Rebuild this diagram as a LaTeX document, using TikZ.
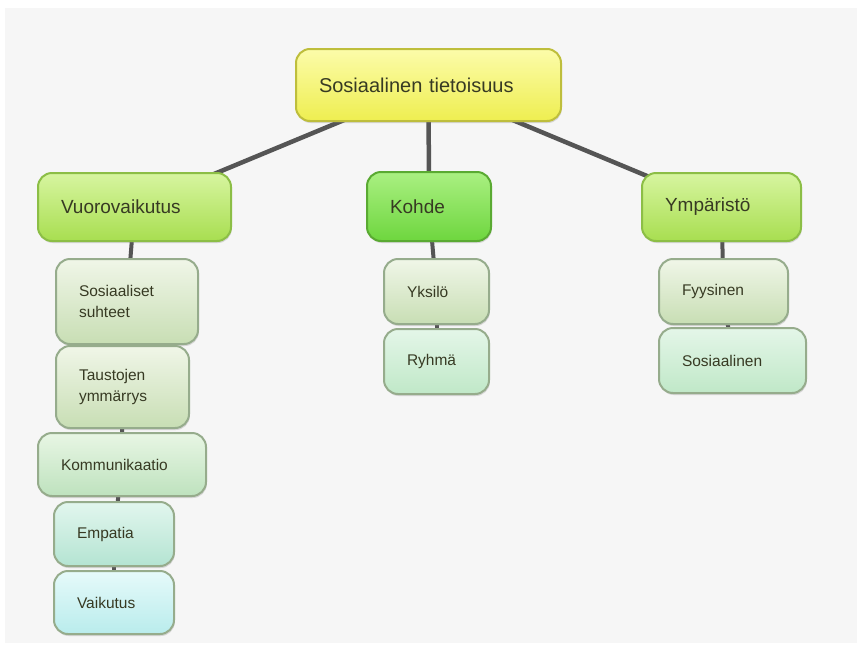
\documentclass[tikz,border=0pt]{standalone}
\usepackage{fontspec}
\setmainfont{Liberation Sans}
\usepackage{tikz}
\usetikzlibrary{shadows}
\usetikzlibrary{backgrounds}

\definecolor{panel}{RGB}{246,246,246}
\definecolor{linkgray}{RGB}{85,85,85}
\definecolor{txtdark}{RGB}{55,58,35}
\definecolor{roottop}{RGB}{252,252,170}
\definecolor{rootbot}{RGB}{238,238,80}
\definecolor{rootline}{RGB}{190,190,60}
\definecolor{lvltop}{RGB}{215,245,160}
\definecolor{lvlbot}{RGB}{168,222,80}
\definecolor{lvlline}{RGB}{140,190,70}
\definecolor{kohtop}{RGB}{170,240,130}
\definecolor{kohbot}{RGB}{110,214,62}
\definecolor{kohline}{RGB}{90,170,50}
\definecolor{subline}{RGB}{150,172,140}
\definecolor{olivetop}{RGB}{240,246,232}
\definecolor{olivebot}{RGB}{200,222,180}
\definecolor{minttop}{RGB}{232,246,228}
\definecolor{mintbot}{RGB}{190,226,190}
\definecolor{seatop}{RGB}{228,246,232}
\definecolor{seabot}{RGB}{192,232,200}
\definecolor{aquatop}{RGB}{226,246,238}
\definecolor{aquabot}{RGB}{180,228,210}
\definecolor{cyantop}{RGB}{230,250,250}
\definecolor{cyanbot}{RGB}{185,236,236}

\tikzset{
  box/.style={rectangle, rounded corners=14pt, anchor=north west, align=left,
    inner xsep=23pt, inner ysep=0pt, line width=2pt, text=txtdark,
    drop shadow={opacity=0.28, shadow xshift=0.8pt, shadow yshift=-2pt}},
  rootbox/.style={box, draw=rootline, top color=roottop, bottom color=rootbot,
    font=\fontsize{20}{24}\selectfont},
  lvlbox/.style={box, draw=lvlline, top color=lvltop, bottom color=lvlbot,
    font=\fontsize{19}{23}\selectfont},
  kohbox/.style={box, draw=kohline, top color=kohtop, bottom color=kohbot,
    font=\fontsize{19}{23}\selectfont},
  subbox/.style={box, draw=subline, top color=#1top, bottom color=#1bot,
    font=\fontsize{15.5}{21}\selectfont},
  link/.style={linkgray, line width=4.5pt},
}

\begin{document}
\begin{tikzpicture}[x=1pt,y=-1pt]
\useasboundingbox (0,0) rectangle (857,651);

% top
\node (root) at (295,48) [rootbox, text width=219pt, minimum height=72pt] {Sosiaalinen tietoisuus};

% second row
\node (vuoro) at (37,172) [lvlbox, text width=147pt, minimum height=68pt] {Vuorovaikutus};
\node (kohde) at (366,171) [kohbox, text width=78pt, minimum height=69pt] {Kohde};
\node (ymparisto) at (641,172) [lvlbox, text width=113pt, minimum height=68pt] {Ympäristö};

% under Vuorovaikutus
\node (suhteet) at (55,258) [subbox=olive, text width=96pt, minimum height=85pt] {Sosiaaliset\\suhteet};
\node (taustat) at (55,345) [subbox=olive, text width=87pt, minimum height=82pt] {Taustojen\\ymmärrys};
\node (kommunikaatio) at (37,432) [subbox=mint, text width=122pt, minimum height=63pt] {Kommunikaatio};
\node (empatia) at (53,501) [subbox=aqua, text width=74pt, minimum height=64pt] {Empatia};
\node (vaikutus) at (53,570) [subbox=cyan, text width=74pt, minimum height=63pt] {Vaikutus};

% under Kohde
\node (yksilo) at (383,258) [subbox=olive, text width=59pt, minimum height=65pt] {Yksilö};
\node (ryhma) at (383,328) [subbox=sea, text width=59pt, minimum height=65pt] {Ryhmä};

% under Ympäristö
\node (fyysinen) at (658,258) [subbox=olive, text width=83pt, minimum height=65pt] {Fyysinen};
\node (sosiaalinen) at (658,327) [subbox=sea, text width=101pt, minimum height=65pt] {Sosiaalinen};

\begin{scope}[on background layer]
\fill[panel] (5,8) rectangle (857,643);

\draw[link] (root.center) -- (vuoro.center);
\draw[link] (root.center) -- (kohde.center);
\draw[link] (root.center) -- (ymparisto.center);

\draw[link, line width=4pt] (vuoro.center) -- (suhteet.center);
\draw[link, line width=4pt] (suhteet.center) -- (taustat.center);
\draw[link, line width=4pt] (taustat.center) -- (kommunikaatio.center);
\draw[link, line width=4pt] (kommunikaatio.center) -- (empatia.center);
\draw[link, line width=4pt] (empatia.center) -- (vaikutus.center);

\draw[link, line width=4pt] (kohde.center) -- (yksilo.center);
\draw[link, line width=4pt] (yksilo.center) -- (ryhma.center);

\draw[link, line width=4pt] (ymparisto.center) -- (fyysinen.center);
\draw[link, line width=4pt] (fyysinen.center) -- (sosiaalinen.center);
\end{scope}

\end{tikzpicture}
\end{document}
